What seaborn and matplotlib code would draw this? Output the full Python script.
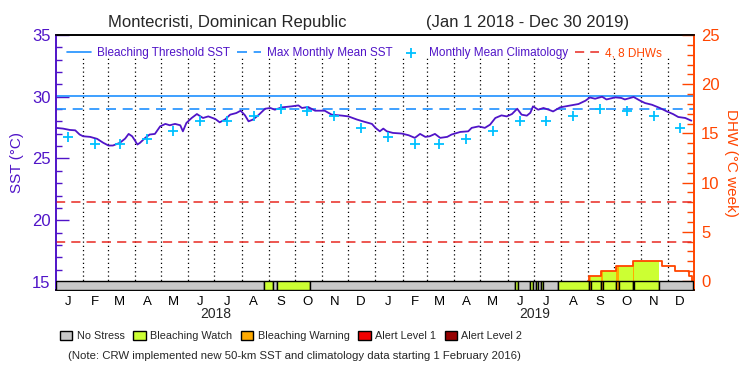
import numpy as np
import pandas as pd
import seaborn as sns
import matplotlib.pyplot as plt
import matplotlib.dates as mdates
import matplotlib.transforms as mtransforms
from matplotlib.patches import Patch
from matplotlib.ticker import MultipleLocator

start = pd.Timestamp("2018-01-01")
end = pd.Timestamp("2019-12-30")

# daily SST (day number since 1 Jan 2018)
sst_day = [0, 8, 16, 22, 27, 31, 39, 47, 54, 60, 65, 73, 79, 83, 87, 90, 93, 96, 102, 107,
           113, 119, 125, 130, 136, 142, 145, 149, 155, 161, 165, 168, 174, 182, 187, 193, 199, 206, 211, 216,
           220, 225, 231, 239, 245, 250, 258, 269, 277, 281, 288, 296, 307, 315, 327, 334, 344, 353, 361, 365,
           370, 374, 378, 385, 395, 403, 410, 416, 422, 427, 433, 439, 447, 452, 462, 471, 475, 483, 490, 496,
           502, 509, 515, 521, 527, 532, 538, 542, 545, 551, 557, 563, 568, 576, 586, 597, 605, 610, 616, 624,
           629, 639, 646, 650, 660, 667, 673, 681, 690, 698, 705, 711, 719, 726]
sst = [27.48, 27.42, 27.31, 27.28, 26.94, 26.80, 26.75, 26.59, 26.27, 26.05, 26.05, 26.27, 26.61, 26.99, 26.80, 26.48, 26.13, 26.27, 26.67, 26.94,
       26.99, 27.60, 27.80, 27.69, 27.80, 27.69, 27.20, 27.88, 28.28, 28.60, 28.41, 28.28, 28.41, 28.20, 27.93, 28.15, 28.55, 28.68, 28.87, 28.49,
       28.01, 28.15, 28.49, 29.03, 29.09, 28.95, 29.14, 29.22, 29.30, 29.09, 29.17, 28.87, 28.87, 28.55, 28.47, 28.41, 28.15, 27.96, 27.80, 27.48,
       27.20, 27.42, 27.20, 27.07, 27.02, 26.88, 26.67, 26.99, 26.75, 26.80, 26.99, 26.67, 26.75, 26.94, 27.15, 27.20, 27.48, 27.60, 27.48, 27.74,
       28.28, 28.49, 28.41, 28.60, 29.03, 28.55, 28.47, 28.70, 29.22, 28.95, 29.09, 28.95, 28.81, 29.14, 29.27, 29.41, 29.68, 29.94, 29.84, 30.00,
       29.78, 29.95, 29.90, 29.78, 29.98, 29.70, 29.49, 29.35, 29.09, 28.81, 28.60, 28.36, 28.28, 28.06]

clim = [26.72, 26.21, 26.21, 26.59, 27.20, 28.01, 28.01, 28.41, 29.00, 28.87, 28.47, 27.47]
mmm = 29.02
threshold = 30.02
dhw_levels = [4, 8]

dhw_start = ["2018-01-01", "2019-09-02", "2019-09-16", "2019-10-03", "2019-10-22",
             "2019-11-25", "2019-12-09", "2019-12-25", "2019-12-29"]
dhw = [0, 0.5, 1.0, 1.5, 2.0, 1.5, 1.0, 0.5, 0]

stress_start = ["2018-01-01", "2018-08-27", "2018-09-06", "2018-09-11", "2018-10-18",
                "2019-06-10", "2019-06-13", "2019-06-27", "2019-06-30", "2019-07-03",
                "2019-07-06", "2019-07-09", "2019-07-12", "2019-07-29", "2019-09-02",
                "2019-09-04", "2019-09-16", "2019-09-18", "2019-10-03", "2019-10-06",
                "2019-10-22", "2019-10-24", "2019-11-21"]
stress_level = [0, 1, 0, 1, 0, 1, 0, 1, 0, 1, 0, 1, 0, 1, 2, 1, 2, 1, 2, 1, 2, 1, 0]
stress_names = ["No Stress", "Bleaching Watch", "Bleaching Warning", "Alert Level 1", "Alert Level 2"]
stress_colors = ["#c8c8c8", "#ccff33", "#ffaa00", "#f00000", "#960000"]

month_letters = list("JFMAMJJASOND") * 2
years = ["2018", "2019"]

purple = "#5014c8"
orange = "#ff4500"
blue = "#1e90ff"

sns.set_style("ticks")
plt.rcParams["font.family"] = ["Liberation Sans", "DejaVu Sans"]

fig = plt.figure(figsize=(7.5, 3.75), dpi=100)
ax = fig.add_axes([56 / 750, 85 / 375, 638 / 750, 255 / 375])
ax2 = ax.twinx()

sst_dates = start + pd.to_timedelta(sst_day, unit="D")
clim_dates = [pd.Timestamp(int(y), m, 15) for y in years for m in range(1, 13)]
month_starts = pd.date_range("2018-02-01", "2019-12-01", freq="MS")

ax.vlines(month_starts, 14.4, 33.3, colors="black", linestyles=(0, (1, 2.4)), lw=0.9)
thr_line = ax.axhline(threshold, color=blue, lw=1.2)
mmm_line = ax.axhline(mmm, color=blue, lw=1.2, ls=(0, (6, 4)))
sns.lineplot(x=sst_dates, y=sst, ax=ax, color=purple, lw=1.3, estimator=None, zorder=4)
sns.scatterplot(x=clim_dates, y=np.tile(clim, 2), ax=ax, marker="+", s=45,
                color="#00c0ff", linewidth=1.3, zorder=5)
clim_pts = ax.collections[-1]

# DHW axis: thresholds, filled stress levels, step curve and stress bar
dhw_lines = [ax2.axhline(v, color="#e82820", lw=1.1, ls=(0, (6, 4))) for v in dhw_levels]

days = pd.date_range(start, end)
dhw_daily = pd.Series(dhw, index=pd.to_datetime(dhw_start)).reindex(days, method="ffill")
s_starts = pd.to_datetime(stress_start)
s_ends = list(s_starts[1:]) + [end]
for s, e, k in zip(s_starts, s_ends, stress_level):
    if k > 0:
        seg = dhw_daily[s:e]
        ax2.fill_between(seg.index, 0, seg.values, step="post", color=stress_colors[k], lw=0, zorder=1.5)
    ax2.bar(mdates.date2num(s), 0.93, width=(e - s).days, bottom=-0.93, align="edge",
            color=stress_colors[k], edgecolor="black", lw=1, zorder=3)
first = dhw_daily.ne(0).idxmax() - pd.Timedelta(days=1)
dhw_curve = dhw_daily[first:]
ax2.plot(dhw_curve.index, dhw_curve.values, drawstyle="steps-post", color=orange, lw=1.3, zorder=2)

ax.set_xlim(start, pd.Timestamp("2019-12-31"))
ax.set_ylim(14.35, 35)
ax2.set_ylim(-0.93, 25)

mid_months = [pd.Timestamp(int(y), m, 15) for y in years for m in range(1, 13)]
ax.set_xticks(mid_months, labels=month_letters)
ax.set_xlabel("")
ax.tick_params(axis="x", length=0, pad=4, labelsize=9.5, colors="black")
trans = mtransforms.blended_transform_factory(ax.transData, ax.transAxes)
for y in years:
    ax.text(pd.Timestamp(int(y), 7, 2), -0.096, y, transform=trans, ha="center", va="center", fontsize=10)

ax.set_yticks([15, 20, 25, 30, 35])
ax.yaxis.set_minor_locator(MultipleLocator(1))
ax.tick_params(axis="y", which="major", direction="in", length=9, width=1, colors=purple, labelsize=12, pad=4)
ax.tick_params(axis="y", which="minor", direction="in", length=4.5, width=1, colors=purple)
ax2.set_yticks([0, 5, 10, 15, 20, 25])
ax2.yaxis.set_minor_locator(MultipleLocator(1))
ax2.tick_params(axis="y", which="major", direction="in", length=9, width=1, colors=orange, labelsize=12, pad=5)
ax2.tick_params(axis="y", which="minor", direction="in", length=5, width=1, colors=orange)

for a in (ax, ax2):
    a.spines["left"].set_color(purple)
    a.spines["right"].set_color(orange)
    a.spines["top"].set_color("black")
    a.spines["bottom"].set_color("black")
    for sp in a.spines.values():
        sp.set_linewidth(1.2)

ax.set_ylabel("SST (°C)", color=purple, fontsize=11, va="center")
ax.yaxis.set_label_coords(-0.061, 0.5)
ax2.set_ylabel("DHW (°C week)", color=orange, fontsize=11, rotation=270, va="center")
ax2.yaxis.set_label_coords(1.058, 0.5)

leg = ax2.legend([thr_line, mmm_line, clim_pts, dhw_lines[0]],
                 ["Bleaching Threshold SST", "Max Monthly Mean SST", "Monthly Mean Climatology", "4, 8 DHWs"],
                 ncol=4, loc="upper left", bbox_to_anchor=(0.018, 0.952), frameon=False, fontsize=8.5,
                 handlelength=2.0, handletextpad=0.5, columnspacing=0.6, borderpad=0, borderaxespad=0)
for t, c in zip(leg.get_texts(), [purple, purple, purple, orange]):
    t.set_color(c)

fig.text(0.303, 0.939, "Montecristi, Dominican Republic", ha="center", va="center", fontsize=12)
fig.text(0.703, 0.939, "(Jan 1 2018 - Dec 30 2019)", ha="center", va="center", fontsize=12)

patches = [Patch(facecolor=c, edgecolor="black", lw=1) for c in stress_colors]
fig.legend(patches, stress_names, ncol=5, loc="center", bbox_to_anchor=(0.388, 0.104), frameon=False,
           fontsize=7.8, handlelength=1.15, handleheight=1.0, handletextpad=0.4, columnspacing=0.8, borderpad=0)
fig.text(0.392, 0.051, "(Note: CRW implemented new 50-km SST and climatology data starting 1 February 2016)",
         ha="center", va="center", fontsize=8.2)

fig.savefig("out.png", dpi=100)
